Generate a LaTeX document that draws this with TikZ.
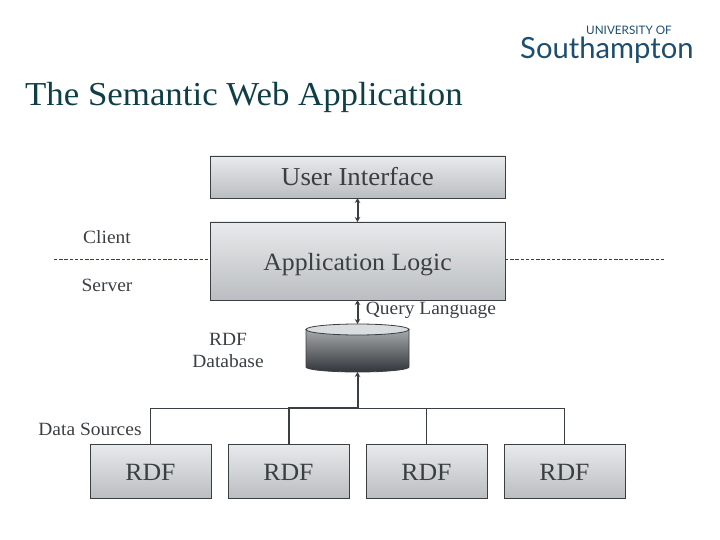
\documentclass[tikz,border=0pt]{standalone}
\usepackage{fontspec}
\setmainfont{Liberation Serif}[FakeStretch=1.04]
\newfontfamily\logofont{Lato}
\usepackage{xcolor}
\usetikzlibrary{positioning}
\usetikzlibrary{arrows.meta}
\usetikzlibrary{shapes.geometric}
\definecolor{inkgrey}{HTML}{3A3F44}
\definecolor{titleteal}{HTML}{0F3F46}
\definecolor{logoblue}{HTML}{1D4E6F}
\definecolor{boxtop}{HTML}{E8EAEC}
\definecolor{boxbottom}{HTML}{BBBEC0}
\begin{document}
\begin{tikzpicture}[
        x=1pt, y=-1pt, text=inkgrey, node distance=138pt,
        box/.style = {draw=inkgrey, line width=0.8pt, top color=boxtop, bottom color=boxbottom, inner sep=0pt, outer sep=0pt, text height=18pt, text depth=0pt, font=\fontsize{24.8}{24}\selectfont},
        source/.style = {box, minimum width=121pt, minimum height=54pt},
        label/.style = {font=\fontsize{18.7}{22}\selectfont, align=center, inner sep=0pt},
        link/.style = {draw=inkgrey, line width=2pt, {Stealth[length=5pt,width=5.5pt]}-{Stealth[length=5pt,width=5.5pt]}},
        wire/.style = {draw=inkgrey, line width=0.8pt},
        thick wire/.style = {draw=inkgrey, line width=2pt},
        rule/.style = {draw=inkgrey, line width=0.7pt, dash pattern=on 3.4pt off 1.8pt}
        ]
        \useasboundingbox (0,0) rectangle (720,540);
        % heading
        \node (title) [anchor=base west, inner sep=0pt, text=titleteal, font=\fontsize{33.5}{34}\selectfont] at (25,105.5) {The Semantic Web Application};
        \node (uni) [anchor=base east, inner sep=0pt, text=logoblue, font=\logofont\fontsize{11.7}{12}\selectfont] at (672,35) {UNIVERSITY OF};
        \node (soton) [anchor=base west, inner sep=0pt, text=logoblue, font=\logofont\fontsize{29.2}{30}\selectfont] at (520,59) {Southampton};
        % stack
        \node (ui) [box, minimum width=295pt, minimum height=42pt, font=\fontsize{25.8}{24}\selectfont] at (357.5,177) {User Interface};
        \node (logic) [box, minimum width=295pt, minimum height=78pt] at (357.5,261) {Application Logic};
        % database
        \coordinate (dbleft) at (306,329.5);
        \coordinate (dbbase) at (357.5,372);
        \path[draw=inkgrey, line width=0.8pt, top color=inkgrey!45, bottom color=inkgrey!85!black] (dbleft) -- ++(0,37.5) arc[start angle=180, end angle=360, x radius=51.5pt, y radius=5pt] -- ++(0,-37.5) -- cycle;
        \node (dbtop) [ellipse, draw=inkgrey, line width=0.8pt, fill=boxtop!70!boxbottom, minimum width=103pt, minimum height=11pt, inner sep=0pt, outer sep=0pt] at (357.5,329.5) {};
        % sources
        \node (rdf1) [source] at (150.5,471) {RDF};
        \node (rdf2) [source, right of=rdf1] {RDF};
        \node (rdf3) [source, right of=rdf2] {RDF};
        \node (rdf4) [source, right of=rdf3] {RDF};
        % labels
        \node (client) [label] at (107,237) {Client};
        \node (server) [label] at (107,285) {Server};
        \node (query) [label] at (431,310) {Query Language};
        \node (dblabel) [label] at (228,350) {RDF\\Database};
        \node (sources) [label] at (90,429.5) {Data Sources};
        % connectors
        \draw[link] (ui.south) -- (logic.north);
        \draw[link] (logic.south) -- (dbtop.north);
        \coordinate (bus) at (357.5,408);
        \draw[thick wire, {Stealth[length=5pt,width=5.5pt]}-] (dbbase) -- (bus);
        \draw[wire] (bus) -| (rdf1.north);
        \draw[wire] (bus) -| (rdf3.north);
        \draw[wire] (bus) -| (rdf4.north);
        \draw[thick wire] (bus) -| (rdf2.north);
        \coordinate (ruleL) at (54,259);
        \coordinate (ruleR) at (666,259);
        \draw[rule] (ruleL) -- (logic.west |- ruleL);
        \draw[rule] (logic.east |- ruleR) -- (ruleR);
\end{tikzpicture}
\end{document}
